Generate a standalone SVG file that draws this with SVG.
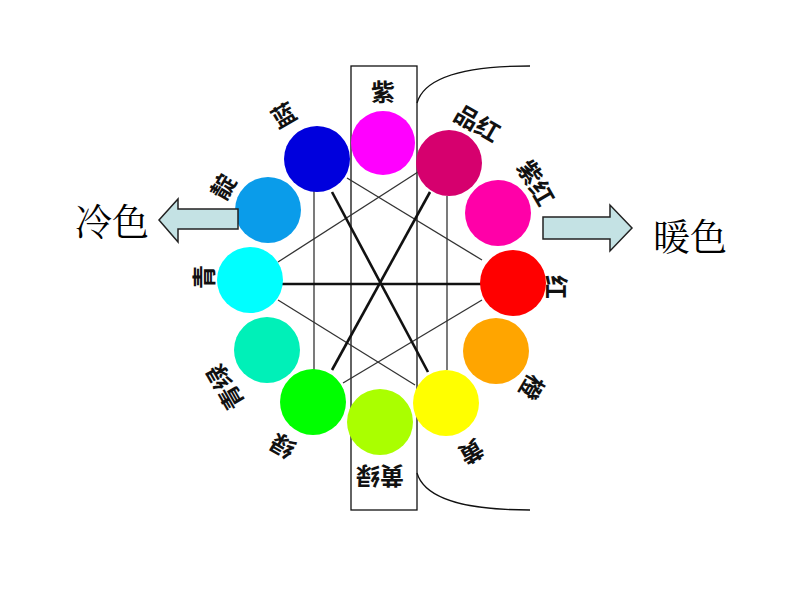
<svg xmlns="http://www.w3.org/2000/svg" width="794" height="596" viewBox="0 0 794 596">
<style>
.c{stroke:none}
.t{stroke:#333;stroke-width:1.3;fill:none}
.k{stroke:#111;stroke-width:2.6;fill:none}
.l{font-family:"Noto Sans CJK SC",sans-serif;font-size:24px;font-weight:bold;fill:#111;text-anchor:middle;dominant-baseline:central}
.big{font-family:"Noto Serif CJK SC","Noto Sans CJK SC",serif;font-size:37px;fill:#000}
.arr{fill:#c4e2e4;stroke:#222;stroke-width:1.5}
</style>
<rect width="794" height="596" fill="#fff"/>
<g id="frame" fill="none" stroke="#111" stroke-width="1.3">
<rect x="351" y="66" width="66" height="444"/>
<path d="M417,103 C425,75 470,66 530,66"/>
<path d="M417,473 C425,500 470,510 530,510"/>
</g>
<g id="connectors">
<line class="t" x1="347" y1="178" x2="482" y2="260"/>
<line class="t" x1="418" y1="172" x2="278" y2="262"/>
<line class="t" x1="314" y1="190" x2="314" y2="370"/>
<line class="t" x1="447" y1="196" x2="447" y2="370"/>
<line class="t" x1="278" y1="300" x2="415" y2="385"/>
<line class="t" x1="482" y1="300" x2="343" y2="383"/>
<line class="k" x1="332" y1="192" x2="428" y2="372"/>
<line class="k" x1="430" y1="192" x2="332" y2="370"/>
<line class="k" x1="282" y1="284" x2="482" y2="284"/>
</g>
<g id="zi"><circle class="c" cx="383" cy="143" r="32" fill="#ff00ff"/><text class="l" x="383" y="90">紫</text></g>
<g id="pinhong"><circle class="c" cx="449" cy="163" r="33" fill="#d6006e"/><text class="l" transform="translate(478,122) rotate(30)">品红</text></g>
<g id="zihong"><circle class="c" cx="498" cy="213" r="33" fill="#ff00a8"/><text class="l" transform="translate(537,182) rotate(60)">紫红</text></g>
<g id="hong"><circle class="c" cx="513" cy="283" r="33" fill="#ff0000"/><text class="l" transform="translate(557,287) rotate(90)">红</text></g>
<g id="cheng"><circle class="c" cx="496" cy="351" r="33" fill="#ffa500"/><text class="l" transform="translate(533,388) rotate(120)">橙</text></g>
<g id="huang"><circle class="c" cx="446" cy="403" r="33" fill="#ffff00"/><text class="l" transform="translate(472,453) rotate(150)">黄</text></g>
<g id="huanglv"><circle class="c" cx="380" cy="422" r="33" fill="#aaff00"/><text class="l" transform="translate(380,477) rotate(180)">黄绿</text></g>
<g id="lv"><circle class="c" cx="313" cy="402" r="33" fill="#00ff00"/><text class="l" transform="translate(282,447) rotate(210)">绿</text></g>
<g id="qinglv"><circle class="c" cx="267" cy="350" r="33" fill="#00f0b8"/><text class="l" transform="translate(224,388) rotate(240)">青绿</text></g>
<g id="qing"><circle class="c" cx="250" cy="280" r="33" fill="#00ffff"/><text class="l" transform="translate(202,277) rotate(270)">青</text></g>
<g id="dian"><circle class="c" cx="268" cy="210" r="33" fill="#0a9cea"/><text class="l" transform="translate(222,186) rotate(300)">靛</text></g>
<g id="lan"><circle class="c" cx="317" cy="159" r="33" fill="#0000dd"/><text class="l" transform="translate(283,114) rotate(330)">蓝</text></g>
<g id="cold"><path class="arr" d="M238,209 H178 V199 L159,220 L178,242 V229 H238 Z"/><text class="big" x="75" y="236">冷色</text></g>
<g id="warm"><path class="arr" d="M543,217 H610 V205 L632,228 L610,251 V239 H543 Z"/><text class="big" x="653" y="251">暖色</text></g>
</svg>
